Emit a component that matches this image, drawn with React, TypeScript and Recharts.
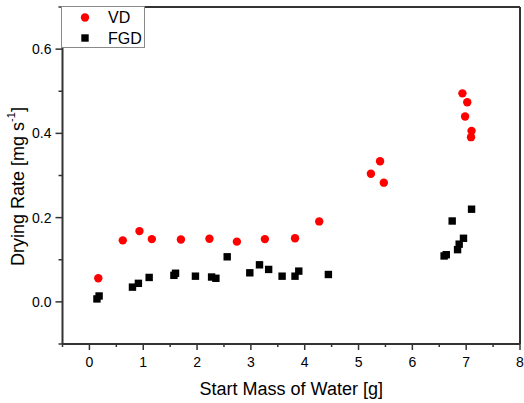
import { Legend, ReferenceLine, Scatter, ScatterChart, XAxis, YAxis } from "recharts";

// start mass of water [g] vs drying rate [mg/s]
const vdMass = [0.165, 0.62, 0.93, 1.16, 1.7, 2.23, 2.74, 3.26, 3.82, 4.27, 5.23, 5.4, 5.47, 6.93, 7.02, 6.98, 7.1, 7.09];
const vdRate = [0.056, 0.146, 0.168, 0.149, 0.148, 0.15, 0.143, 0.149, 0.151, 0.191, 0.304, 0.334, 0.283, 0.495, 0.474, 0.44, 0.406, 0.391];

const fgdMass = [0.14, 0.18, 0.8, 0.91, 1.11, 1.57, 1.6, 1.97, 2.27, 2.35, 2.56, 2.98, 3.16, 3.33, 3.58, 3.82, 3.89, 4.44, 6.59, 6.63, 6.84, 6.87, 6.95, 6.74, 7.1];
const fgdRate = [0.007, 0.014, 0.035, 0.044, 0.058, 0.063, 0.068, 0.061, 0.059, 0.056, 0.107, 0.069, 0.088, 0.077, 0.061, 0.061, 0.073, 0.065, 0.109, 0.112, 0.124, 0.137, 0.151, 0.192, 0.22];

const xTicks = [-0.5, 0, 0.5, 1, 1.5, 2, 2.5, 3, 3.5, 4, 4.5, 5, 5.5, 6, 6.5, 7, 7.5, 8];
const yTicks = [-0.1, 0, 0.1, 0.2, 0.3, 0.4, 0.5, 0.6, 0.7];
const xMajor = [0, 1, 2, 3, 4, 5, 6, 7, 8];
const yMajor = [0, 0.2, 0.4, 0.6];

const FONT = "Arial, 'Liberation Sans', sans-serif";
const AXIS = "#333";

const vdData = vdMass.map((m, i) => ({ mass: m, rate: vdRate[i] }));
const fgdData = fgdMass.map((m, i) => ({ mass: m, rate: fgdRate[i] }));

function XTick({ x, y, payload }: any) {
  const major = xMajor.some((v) => Math.abs(v - payload.value) < 1e-6);
  return (
    <g>
      <line x1={x} x2={x} y1={y} y2={y + (major ? 6 : 3)} stroke={AXIS} strokeWidth={1.5} />
      {major && (
        <text x={x} y={y + 23} textAnchor="middle" fontSize={14} fontFamily={FONT} fill="#000">
          {payload.value}
        </text>
      )}
    </g>
  );
}

function YTick({ x, y, payload }: any) {
  const major = yMajor.some((v) => Math.abs(v - payload.value) < 1e-6);
  return (
    <g>
      <line x1={x - (major ? 7 : 4)} x2={x} y1={y} y2={y} stroke={AXIS} strokeWidth={1.5} />
      {major && (
        <text x={x - 11} y={y + 5} textAnchor="end" fontSize={14} fontFamily={FONT} fill="#000">
          {payload.value.toFixed(1)}
        </text>
      )}
    </g>
  );
}

function YTitle({ viewBox }: any) {
  const cx = viewBox.x + 18;
  const cy = viewBox.y + viewBox.height / 2 + 11;
  return (
    <text
      x={cx}
      y={cy}
      transform={`rotate(-90 ${cx} ${cy})`}
      textAnchor="middle"
      dominantBaseline="central"
      fontSize={18}
      fontFamily={FONT}
      fill="#000"
    >
      Drying Rate [mg s<tspan dy={-7} fontSize={11}>-1</tspan>
      <tspan dy={7}>]</tspan>
    </text>
  );
}

function Circle({ cx, cy }: any) {
  return <circle cx={cx} cy={cy} r={4.2} fill="#ff0000" />;
}

function Square({ cx, cy }: any) {
  return <rect x={cx - 3.7} y={cy - 3.7} width={7.4} height={7.4} fill="#000" />;
}

function LegendBox() {
  return (
    <svg width={84} height={42}>
      <rect x={0.5} y={0.5} width={83} height={41} fill="#fff" stroke="#8a8a8a" />
      <circle cx={24} cy={11.5} r={4.2} fill="#ff0000" />
      <text x={47} y={17} fontSize={16} fontFamily={FONT} fill="#000">VD</text>
      <rect x={20.3} y={28.3} width={7.4} height={7.4} fill="#000" />
      <text x={47} y={38} fontSize={16} fontFamily={FONT} fill="#000">FGD</text>
    </svg>
  );
}

export default function App() {
  return (
    <div style={{ position: "absolute", left: 0, top: 0, background: "#fff" }}>
      <ScatterChart width={524} height={403} margin={{ top: 7, right: 4, bottom: 0, left: 0 }}>
        <XAxis
          type="number"
          dataKey="mass"
          domain={[-0.5, 8]}
          ticks={xTicks}
          interval={0}
          tick={<XTick />}
          tickLine={false}
          tickSize={0}
          tickMargin={0}
          height={59}
          axisLine={{ stroke: AXIS, strokeWidth: 2 }}
          allowDataOverflow
          label={{ value: "Start Mass of Water [g]", position: "insideBottom", offset: 8, fontSize: 18, fontFamily: FONT, fill: "#000" }}
        />
        <YAxis
          type="number"
          dataKey="rate"
          domain={[-0.1, 0.7]}
          ticks={yTicks}
          interval={0}
          tick={<YTick />}
          tickLine={false}
          tickSize={0}
          tickMargin={0}
          width={62.5}
          axisLine={{ stroke: AXIS, strokeWidth: 2 }}
          allowDataOverflow
          label={<YTitle />}
        />
        <ReferenceLine y={0.7} stroke={AXIS} strokeWidth={2} />
        <ReferenceLine x={8} stroke={AXIS} strokeWidth={2} />
        <Scatter name="VD" data={vdData} shape={<Circle />} isAnimationActive={false} />
        <Scatter name="FGD" data={fgdData} shape={<Square />} isAnimationActive={false} />
        <Legend
          layout="horizontal"
          verticalAlign="middle"
          align="center"
          content={<LegendBox />}
          wrapperStyle={{ left: 61, top: 6, width: 84, height: 42 }}
        />
      </ScatterChart>
    </div>
  );
}
